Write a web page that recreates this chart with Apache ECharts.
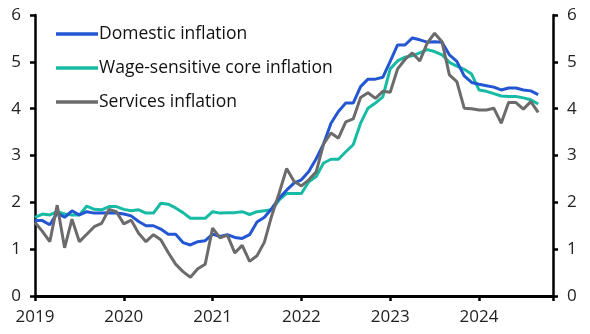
<!DOCTYPE html>
<html><head><meta charset="utf-8">
<script src="https://cdn.jsdelivr.net/npm/echarts@6/dist/echarts.min.js"></script>
<style>html,body{margin:0;padding:0;background:#fff}#c{width:590px;height:334px}</style>
</head><body><div id="c"></div>
<script>
// Monthly, Jan 2019 .. Sep 2024 (index 0 = Jan 2019)
var yearLabels = ['2019','2020','2021','2022','2023','2024'];
var seriesNames = ['Domestic inflation','Wage-sensitive core inflation','Services inflation'];
var domestic = [1.61,1.61,1.52,1.77,1.68,1.82,1.73,1.80,1.77,1.77,1.78,1.77,
  1.75,1.71,1.59,1.50,1.50,1.43,1.32,1.32,1.14,1.09,1.16,1.18,
  1.32,1.27,1.31,1.25,1.23,1.31,1.58,1.68,1.87,2.09,2.26,2.41,
  2.48,2.66,2.93,3.25,3.69,3.94,4.12,4.12,4.47,4.63,4.63,4.67,
  5.01,5.36,5.36,5.51,5.47,5.42,5.43,5.42,5.15,5.01,4.70,4.56,
  4.52,4.49,4.46,4.40,4.44,4.44,4.40,4.38,4.30];
var wageSensitive = [1.68,1.75,1.73,1.80,1.75,1.73,1.73,1.92,1.85,1.84,1.91,1.91,
  1.85,1.82,1.84,1.77,1.77,1.98,1.96,1.88,1.78,1.66,1.66,1.66,
  1.80,1.77,1.78,1.78,1.80,1.74,1.80,1.82,1.84,2.05,2.19,2.19,
  2.19,2.44,2.55,2.84,2.92,2.92,3.08,3.23,3.69,4.01,4.12,4.25,
  4.85,5.02,5.10,5.13,5.19,5.26,5.22,5.15,4.99,4.91,4.84,4.74,
  4.40,4.37,4.32,4.27,4.26,4.26,4.23,4.19,4.10];
var services = [1.57,1.38,1.16,1.94,1.03,1.64,1.16,1.32,1.48,1.55,1.85,1.80,
  1.54,1.62,1.34,1.16,1.31,1.20,0.93,0.68,0.52,0.40,0.58,0.68,
  1.45,1.24,1.30,0.92,1.08,0.74,0.86,1.15,1.72,2.20,2.72,2.45,
  2.35,2.48,2.65,3.25,3.48,3.37,3.72,3.78,4.24,4.34,4.22,4.37,
  4.35,4.85,5.05,5.19,5.02,5.40,5.61,5.43,4.72,4.58,4.01,4.00,
  3.97,3.97,4.01,3.69,4.13,4.13,3.99,4.15,3.92];

function pairs(arr){ return arr.map(function(v,i){ return [i,v]; }); }

var font = 'Open Sans';
var chart = echarts.init(document.getElementById('c'), null, {renderer:'canvas'});
var yAxisCommon = {
  type:'value', min:0, max:6, interval:1,
  splitLine:{show:false},
  axisLine:{show:true, lineStyle:{color:'#000', width:2.5}},
  axisTick:{show:true, inside:false, length:5, lineStyle:{color:'#000', width:2.5}},
  axisLabel:{color:'#222', fontSize:17, fontFamily:font, margin:14}
};
chart.setOption({
  animation:false,
  grid:{left:35, right:37, top:15, bottom:38, containLabel:false},
  legend:{
    left:51, top:20, orient:'vertical', itemGap:16,
    icon:'rect', itemWidth:42, itemHeight:3.5,
    textStyle:{fontSize:17.5, fontFamily:font, color:'#111', padding:[0,0,0,-4]},
    data:seriesNames
  },
  xAxis:{
    type:'value', min:0, max:70, interval:12,
    splitLine:{show:false},
    axisLine:{show:true, onZero:false, lineStyle:{color:'#000', width:3}},
    axisTick:{show:true, length:5, lineStyle:{color:'#000', width:2.5}},
    axisLabel:{color:'#222', fontSize:17, fontFamily:font, margin:13,
      formatter:function(v){ var k=v/12; return (k===Math.floor(k) && yearLabels[k]) ? yearLabels[k] : ''; }}
  },
  yAxis:[
    Object.assign({position:'left'}, yAxisCommon),
    Object.assign({position:'right'}, yAxisCommon)
  ],
  series:[
    {name:seriesNames[0], type:'line', data:pairs(domestic), showSymbol:false, z:3,
      lineStyle:{color:'#2356d3', width:3}, itemStyle:{color:'#2356d3'}},
    {name:seriesNames[1], type:'line', data:pairs(wageSensitive), showSymbol:false, z:2,
      lineStyle:{color:'#17bba3', width:3}, itemStyle:{color:'#17bba3'}},
    {name:seriesNames[2], type:'line', data:pairs(services), showSymbol:false, z:4,
      lineStyle:{color:'#6b6b6b', width:3}, itemStyle:{color:'#6b6b6b'}}
  ]
});
</script></body></html>
